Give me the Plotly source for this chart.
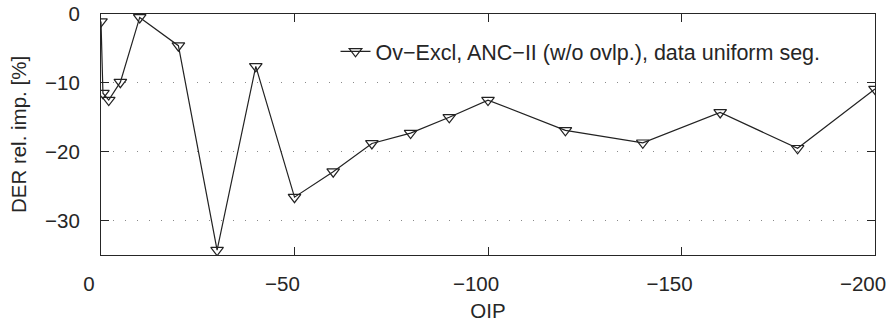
import plotly.graph_objects as go

oip = [0, -0.5, -2, -5, -10, -20, -30, -40, -50, -60, -70, -80, -90, -100,
       -120, -140, -160, -180, -200]
der_rel_imp = [-1.1, -11.5, -12.5, -9.9, -0.5, -4.6, -34.3, -7.6, -26.6, -22.9,
               -18.8, -17.3, -15.0, -12.5, -16.9, -18.7, -14.3, -19.5, -10.9]
series_name = "Ov\u2212Excl, ANC\u2212II (w/o ovlp.), data uniform seg."
x_ticks = [0, -50, -100, -150, -200]
y_ticks = [0, -10, -20, -30]

FONT = "Liberation Sans, Arial, Helvetica, sans-serif"
INK = "#262626"

fig = go.Figure()
fig.add_trace(go.Scatter(
    x=oip, y=der_rel_imp, mode="lines+markers", name=series_name,
    line=dict(color="#222222", width=1.2),
    marker=dict(symbol="triangle-down-open", size=11, color="#222222",
                line=dict(width=1.2, color="#222222")),
    showlegend=True,
))

axis_common = dict(
    showline=True, linecolor=INK, linewidth=1.2, mirror="ticks",
    ticks="inside", ticklen=8, tickwidth=1, tickcolor=INK,
    tickfont=dict(family=FONT, size=20.5, color=INK),
    zeroline=False, ticklabeloverflow="allow", automargin=False,
)

fig.update_layout(
    width=889, height=325,
    margin=dict(l=101, r=14, t=14, b=70),
    paper_bgcolor="white", plot_bgcolor="white",
    font=dict(family=FONT, size=20.5, color=INK),
    showlegend=True,
    legend=dict(x=0.303, y=0.845, xanchor="left", yanchor="middle",
                bgcolor="rgba(0,0,0,0)", borderwidth=0,
                font=dict(family=FONT, size=21.5, color=INK)),
    xaxis=dict(range=[0.001, -200.001], tickvals=x_ticks, showgrid=False,
               title=dict(text="OIP", standoff=9,
                          font=dict(family=FONT, size=20.5, color=INK)),
               ticklabelstandoff=10, ticklabelshift=12, **axis_common),
    yaxis=dict(range=[-35, 0.001], tickvals=y_ticks, showgrid=True,
               gridcolor="#8a8a8a", gridwidth=1, griddash="1px,11px",
               title=dict(text="DER rel. imp. [%]", standoff=12,
                          font=dict(family=FONT, size=20.5, color=INK)),
               ticklabelstandoff=16, **axis_common),
)

fig.write_html("out.html")
